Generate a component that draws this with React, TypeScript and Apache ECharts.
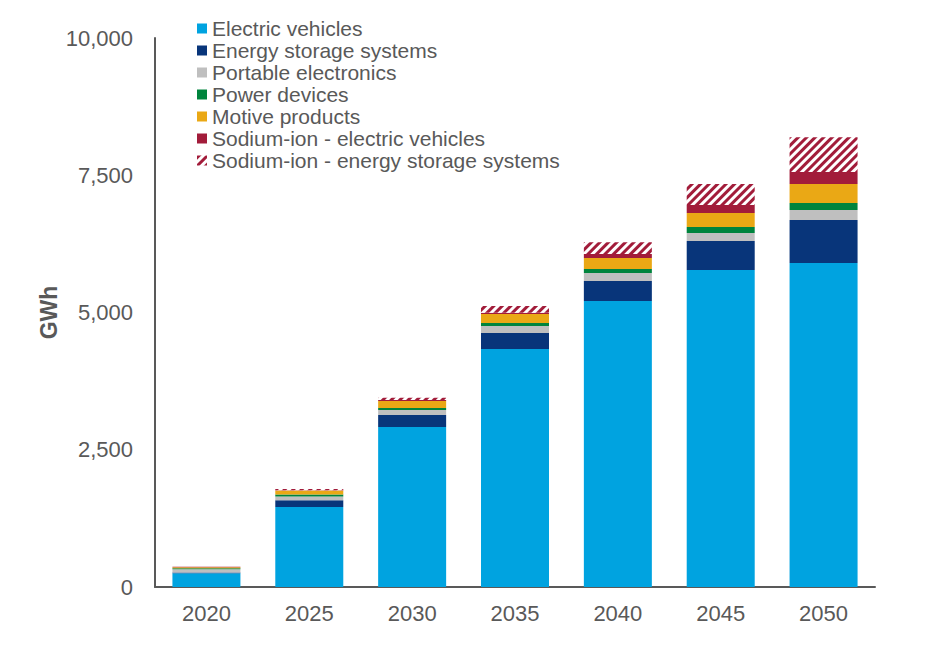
import React, { useEffect, useRef } from "react";
import * as echarts from "echarts";

const years = ["2020", "2025", "2030", "2035", "2040", "2045", "2050"];
const electricVehicles = [250, 1455, 2915, 4335, 5210, 5775, 5900];
const energyStorage = [12, 127, 219, 291, 364, 528, 783];
const portableElectronics = [60, 67, 91, 127, 146, 146, 182];
const powerDevices = [18, 36, 36, 55, 73, 109, 128];
const motiveProducts = [18, 73, 127, 164, 200, 255, 346];
const sodiumEV = [12, 5, 18, 24, 73, 146, 219];
const sodiumESS = [0, 20, 42, 122, 213, 383, 632];

const FONT = "'Liberation Sans', Arial, sans-serif";
const TEXT = "#595959";

export default function App() {
  const ref = useRef<HTMLDivElement>(null);
  useEffect(() => {
    document.body.style.margin = "0";
    const chart = echarts.init(ref.current!, null, { renderer: "svg" });
    const mk = (name: string, data: number[], color: string, extra: any = {}) => ({
      name,
      type: "bar",
      stack: "total",
      barWidth: 68,
      data,
      itemStyle: { color, ...extra },
      emphasis: { disabled: true },
    });
    chart.setOption({
      animation: false,
      textStyle: { fontFamily: FONT },
      grid: { left: 155, right: 50, top: 38, bottom: 82, containLabel: false },
      legend: {
        orient: "vertical",
        left: 192,
        top: 13,
        itemWidth: 10,
        itemHeight: 10,
        itemGap: 1,
        icon: "rect",
        textStyle: { fontFamily: FONT, fontSize: 21, color: TEXT, lineHeight: 21 },
        data: [
          "Electric vehicles",
          "Energy storage systems",
          "Portable electronics",
          "Power devices",
          "Motive products",
          "Sodium-ion - electric vehicles",
          "Sodium-ion - energy storage systems",
        ],
      },
      xAxis: {
        type: "category",
        data: years,
        axisLine: { lineStyle: { color: TEXT, width: 2 } },
        axisTick: { show: false },
        axisLabel: { color: TEXT, fontSize: 22, fontFamily: FONT, margin: 15 },
      },
      yAxis: {
        type: "value",
        min: 0,
        max: 10000,
        interval: 2500,
        name: "GWh",
        nameLocation: "middle",
        nameGap: 95,
        nameMoveOverlap: false,
        nameTextStyle: { color: TEXT, fontSize: 23, fontWeight: "bold", fontFamily: FONT },
        axisLine: { show: true, lineStyle: { color: TEXT, width: 2 } },
        axisTick: { show: false },
        splitLine: { show: false },
        axisLabel: {
          color: TEXT,
          fontSize: 22,
          fontFamily: FONT,
          margin: 22,
          formatter: (v: number) => v.toLocaleString("en-US"),
        },
      },
      series: [
        mk("Electric vehicles", electricVehicles, "#00A3E0"),
        mk("Energy storage systems", energyStorage, "#08357A"),
        mk("Portable electronics", portableElectronics, "#BFBFBF"),
        mk("Power devices", powerDevices, "#00843D"),
        mk("Motive products", motiveProducts, "#EAA815"),
        mk("Sodium-ion - electric vehicles", sodiumEV, "#A21C3A"),
        mk("Sodium-ion - energy storage systems", sodiumESS, "#FFFFFF", {
          decal: {
            symbol: "rect",
            symbolSize: 1,
            color: "#A21C3A",
            dashArrayX: [1, 0],
            dashArrayY: [2.5, 2.5],
            rotation: -Math.PI / 4,
          },
        }),
      ],
    });
    return () => chart.dispose();
  }, []);
  return <div ref={ref} style={{ width: 925, height: 669 }} />;
}
